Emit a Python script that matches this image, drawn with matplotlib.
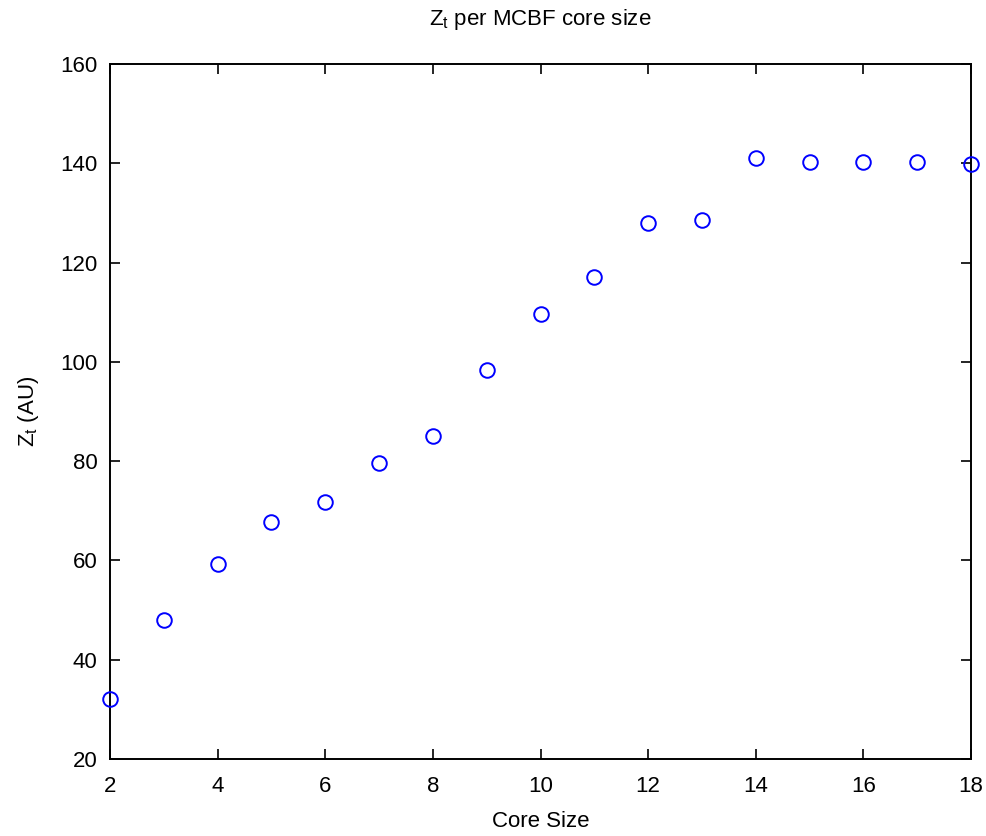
import numpy as np
import matplotlib.pyplot as plt

plt.rcParams['font.family'] = ['Liberation Sans', 'DejaVu Sans']
plt.rcParams['mathtext.fontset'] = 'custom'
plt.rcParams['mathtext.rm'] = 'Liberation Sans'

# data
core_size = [2, 3, 4, 5, 6, 7, 8, 9, 10, 11, 12, 13, 14, 15, 16, 17, 18]
zt = [32.0, 48.1, 59.2, 67.8, 71.8, 79.6, 85.1, 98.3, 109.6, 117.0,
      128.0, 128.5, 141.1, 140.3, 140.3, 140.3, 139.9]

fig = plt.figure(figsize=(9.87, 8.36), dpi=100)
ax = fig.add_axes([0.1115, 0.0921, 0.8723, 0.8313])

ax.plot(core_size, zt, 'o', mfc='none', mec='#0000ff', ms=10.5, mew=1.4,
        clip_on=False, zorder=3)

ax.set_xlim(2, 18)
ax.set_ylim(20, 160)
ax.set_xticks(np.arange(2, 19, 2))
ax.set_yticks(np.arange(20, 161, 20))
ax.tick_params(direction='in', top=True, right=True, labelsize=16, length=7,
               width=1.2)
ax.tick_params(axis='x', pad=12)
ax.tick_params(axis='y', pad=9)
for s in ax.spines.values():
    s.set_linewidth(1.4)

ax.set_xlabel('Core Size', fontsize=16, labelpad=10)
ax.set_ylabel(r'Z$_{\mathregular{t}}$ (AU)', fontsize=16, labelpad=14)
ax.set_title(r'Z$_{\mathregular{t}}$ per MCBF core size', fontsize=16, pad=28)

fig.savefig('out.png', dpi=100)
